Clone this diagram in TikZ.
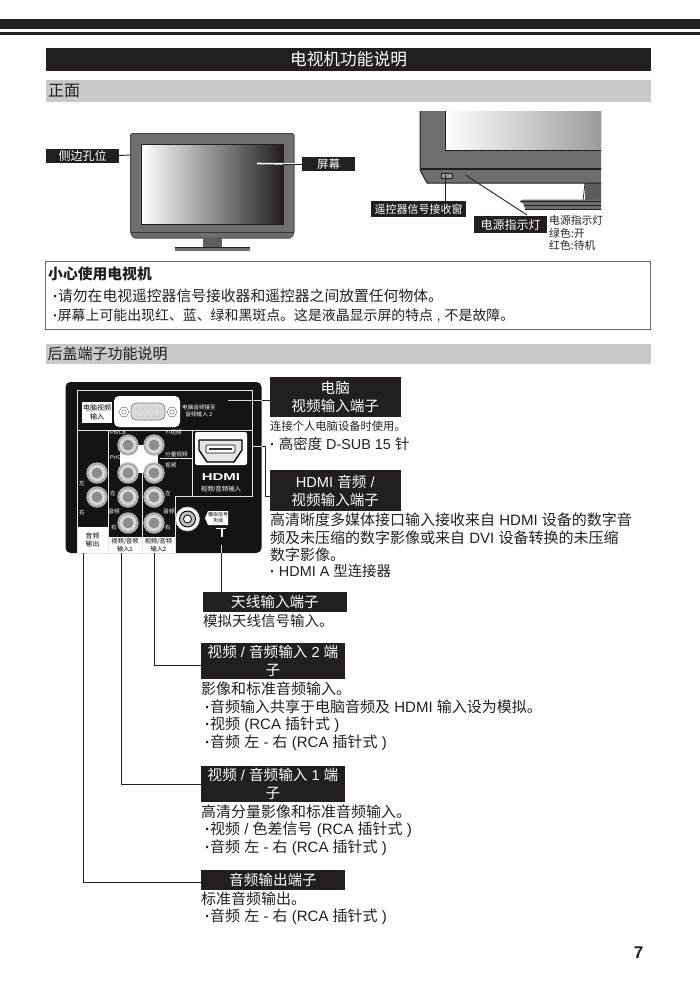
\documentclass[tikz,border=0pt]{standalone}
\usepackage{fontspec}
\setmainfont{Liberation Sans}
\newfontfamily\cjk{Noto Sans CJK SC}
\newcommand{\hz}[1]{{\cjk #1}}
\newcommand{\fs}[1]{\fontsize{#1}{#1}\selectfont\baselineskip=1.2\baselineskip}
\newcommand{\dotb}{\textbf{·}}
\definecolor{ink}{HTML}{231F20}
\definecolor{barg}{HTML}{C8C9CA}
\definecolor{bez}{HTML}{6D6E70}
\tikzset{
  x=1pt,y=-1pt,
  txt/.style={anchor=west,inner sep=0,text=ink,font=\fontsize{15}{18}\selectfont},
  tiny/.style={inner sep=0,text=white,align=center,font=\fontsize{5.6}{6.8}\selectfont},
  tinyk/.style={tiny,text=black},
  lbl/.style={fill=ink,text=white,inner sep=0,align=center,font=\fontsize{14.6}{18}\selectfont},
  lead/.style={draw=ink,line width=0.9pt},
  leadw/.style={draw=white!85!black,line width=0.8pt},
  pline/.style={draw=white!90!black,line width=0.9pt},
}
\newcommand{\jack}[3][10.7]{%
  \fill[black!30] (#2,#3) circle (#1);
  \draw[black!45,fill=black!16,line width=0.5pt] (#2,#3) circle (#1*0.84);
  \fill[black!45] (#2,#3) circle (#1*0.5);
}
\newcommand{\T}[5][]{\node[txt,#1] (#2) at (#3,#4) {#5};}
\begin{document}
\begin{tikzpicture}
\useasboundingbox (0,0) rectangle (700,993);
\fill[white] (0,0) rectangle (700,993);
% page bands
\fill[ink] (0,19) rectangle (700,28.5);
\fill[ink] (0,32) rectangle (700,35);
% headers
\node[fill=ink,minimum width=605,minimum height=23,inner sep=0] (title) at (348,59.5) {};
\node[text=white,inner sep=0,font=\fs{16.7}] (titlet) at (348.5,59.5) {\hz{电视机功能说明}};
\fill[barg] (45.5,80) rectangle (650.5,102);
\T[font=\fs{16}]{zm}{48}{91}{\hz{正面}}
% front TV
\draw[ink!80,fill=bez,line width=1pt,rounded corners=1.5] (130.5,133.5) -- (294,133.5) -- (294,233) -- (291,238) -- (133.5,238) -- (130.5,233) -- cycle;
\draw[ink!90,line width=0.7pt] (130.5,232.5) -- (294,232.5);
\fill[bez!85!black] (203,238) rectangle (222,247);
\fill[bez] (175,247) rectangle (250,250.5);
\draw[ink,line width=0.4pt] (175,247) -- (250,247);
\shade[left color=white,middle color=black!45,right color=ink,draw=ink,line width=0.5pt] (141.5,144.5) rectangle (283,224);
\node[lbl,minimum width=73,minimum height=14,font=\fs{12}] (side) at (82.5,155.5) {\hz{侧边孔位}};
\coordinate (sidept) at (130.5,155);
\draw[lead] (side.east) -- (sidept);
\node[lbl,minimum width=53,minimum height=14,font=\fs{11.5}] (scr) at (328.5,164) {\hz{屏幕}};
\coordinate (scrpt) at (257,163.5);
\draw[white,line width=1.6pt] (scr.west) -- (scrpt);
\draw[ink,line width=0.6pt] (scr.west) -- (283,164) ;
\draw[white,line width=0.4pt] (283,163.5) -- (scrpt);
% detail TV
\begin{scope}
\clip (415,111) rectangle (601,212);
\fill[bez!85!black] (585,183) rectangle (605,201);
\draw[ink,line width=0.7pt] (585,183) -- (583,201);
\fill[bez] (520,201) -- (523,199.5) -- (605,199.5) -- (605,209) -- (525,209) -- (524,205) -- cycle;
\draw[ink,line width=0.6pt] (520,201) -- (605,201) (524,205) -- (605,205) (525,209) -- (605,209);
\draw[ink,fill=bez,line width=1pt] (420,105) -- (420,170) -- (427,183) -- (610,183) -- (610,105) -- cycle;
\draw[ink,line width=1.2pt] (420.5,169) -- (610,169);
\shade[left color=white,right color=black!42,draw=ink,line width=0.7pt] (445,105) rectangle (612,150);
\end{scope}
\draw[ink,line width=0.4pt,fill=bez!70!white] (441,173) rectangle (452,178);
\node[lbl,minimum width=95,minimum height=16,font=\fs{11}] (rem) at (418.5,209) {\hz{遥控器信号接收窗}};
\node[lbl,minimum width=73,minimum height=17,font=\fs{12}] (pow) at (510.5,224.5) {\hz{电源指示灯}};
\coordinate (rempt) at (445,175);
\coordinate (powpt) at (465.5,175);
\coordinate (powend) at (527,215);
\draw[ink,line width=0.7pt] (rempt) -- (445,201);
\draw[ink,line width=0.9pt] (powpt) -- (powend);
\T[font=\fs{10.8}]{p1}{549}{220}{\hz{电源指示灯}}
\T[font=\fs{10.8}]{p2}{549}{233}{\hz{绿色:开}}
\T[font=\fs{10.8}]{p3}{549}{245}{\hz{红色:待机}}
% caution
\draw[black!60,line width=0.9pt] (45.5,261) rectangle (650.5,329);
\T[font=\bfseries\fs{14.8}]{c0}{48}{274}{\hz{小心使用电视机}}
\T[font=\fs{14.8}]{c1}{53}{296}{\dotb\hz{请勿在电视遥控器信号接收器和遥控器之间放置任何物体。}}
\T[font=\fs{13.9}]{c2}{53}{316}{\dotb\hz{屏幕上可能出现红、蓝、绿和黑斑点。这是液晶显示屏的特点} , \hz{不是故障。}}
\fill[barg] (45.5,344) rectangle (650.5,364);
\T[font=\fs{15}]{hg}{47.5}{354}{\hz{后盖端子功能说明}}
% back panel
\fill[black!92,rounded corners=5] (65.5,382) rectangle (261.5,553);
\draw[pline] (252.5,496.5) -- (252.5,390.5) -- (77,390.5) -- (77,553);
\draw[pline] (77,430) -- (252.5,430);
\draw[pline] (108,430) -- (108,553);
\draw[pline] (192,430) -- (192,496.5);
\draw[pline] (142,473) -- (142,553);
\draw[pline] (160,458) -- (192,458);
\draw[pline] (252.5,496.5) -- (175,496.5) -- (175,553);
% top row
\fill[white] (82,402) rectangle (112,423);
\node[tinyk,font=\fs{7}] (pcv) at (97,412.5) {\hz{电脑视频}\\\hz{输入}};
\fill[white,rounded corners=5] (114,396) rectangle (180,427);
\draw[black!55,fill=black!15,rounded corners=5,line width=0.6pt] (131,403) rectangle (165,420);
\foreach \i in {0,...,4}{\fill[black!50] (137+\i*5.5,408) circle (0.5); \fill[black!50] (137+\i*5.5,416) circle (0.5);}
\foreach \x in {124,172}{
  \draw[black!55,line width=0.5pt] (\x+5,412) -- (\x+2.5,416.3) -- (\x-2.5,416.3) -- (\x-5,412) -- (\x-2.5,407.7) -- (\x+2.5,407.7) -- cycle;
  \draw[black!55,line width=0.5pt] (\x,412) circle (2.2);}
\node[tiny] (pca) at (199,411) {\hz{电脑音频接至}\\\hz{音频输入} 2};
% audio out
\jack{97}{473}\jack{97}{497}
\node[tiny] (l0) at (82,483) {\hz{左}};
\node[tiny] (r0) at (82,512) {\hz{右}};
\fill[white] (77.5,527) rectangle (107.5,553);
\node[tinyk,font=\fs{6.8}] (ao) at (92.5,540) {\hz{音频}\\\hz{输出}};
% AV
\fill[white] (120,445) rectangle (158,473);
\foreach \y in {445,473,497,523}{\jack{128}{\y}\jack{154}{\y}}
\node[tiny,anchor=west] (pb) at (110,432.5) {Pb/Cb};
\node[tiny,anchor=west] (yv) at (165,432.5) {Y/\hz{视频}};
\node[tiny,anchor=west] (pr) at (110,457.5) {Pr/Cr};
\node[tiny,anchor=west] (cv) at (165,454.5) {\hz{分量视频}};
\node[tiny,anchor=west] (vi) at (165,465) {\hz{视频}};
\node[tiny] (l1) at (113,493) {\hz{左}};
\node[tiny] (a1) at (114,511) {\hz{音频}};
\node[tiny] (r1) at (114,527) {\hz{右}};
\node[tiny] (l2) at (168,493) {\hz{左}};
\node[tiny] (a2) at (169,511) {\hz{音频}};
\node[tiny] (r2) at (168,527) {\hz{右}};
\fill[white] (108.5,537) rectangle (141.5,553);
\fill[white] (142.5,537) rectangle (175,553);
\node[tinyk,font=\fs{6.2}] (i1) at (125,545) {\hz{视频/音频}\\\hz{输入}1};
\node[tinyk,font=\fs{6.2}] (i2) at (158.5,545) {\hz{视频/音频}\\\hz{输入}2};
% HDMI
\fill[white,rounded corners=2] (195,432) rectangle (247,465);
\draw[black,line width=1.3pt,fill=black!10,line join=round] (199,440) -- (242,440) -- (242,450) -- (234,462) -- (207,462) -- (199,450) -- cycle;
\draw[black,line width=0.6pt,fill=white,rounded corners=1] (206,445) rectangle (235,453);
\fill[black!80] (209,448) rectangle (232,450);
\node[inner sep=0,text=white,font=\bfseries\fs{10}] (hl) at (221,477) {\scalebox{1.5}[1]{HDMI}};
\node[tiny,font=\fs{6.4}] (hv) at (221,489) {\hz{视频}/\hz{音频输入}};
% antenna
\draw[black!30,fill=white,line width=0.8pt] (187.5,519) circle (12);
\draw[black,fill=black!25,line width=0.9pt] (187.5,519) circle (8);
\draw[black,fill=white,line width=0.8pt] (187.5,519) circle (4);
\fill[white] (205,518) -- (208,511) -- (228,511) -- (228,525) -- (208,525) -- cycle;
\node[tinyk,font=\fs{5}] (an) at (218,518) {\hz{模拟信号}\\\hz{天线}};
\draw[white,line width=0.8pt] (216,528) -- (221,528) -- (221,537) (226,528) -- (222.5,528) -- (222.5,537);
% labels on the right
\node[lbl,minimum width=130.5,minimum height=40] (pc) at (335.25,397) {\hz{电脑}\\\hz{视频输入端子}};
\node[lbl,minimum width=130.5,minimum height=41] (hd) at (335.25,490.5) {HDMI \hz{音频} /\\\hz{视频输入端子}};
\coordinate (pcin) at (228,400.5);
\coordinate (pcedge) at (261.5,400.5);
\draw[leadw] (pcin) -- (pcedge);
\draw[lead] (pcedge) -- (pc.west |- pcedge);
\coordinate (hdin) at (253,446);
\coordinate (hdedge) at (261.5,446);
\coordinate (hdbend) at (265,446);
\draw[leadw] (hdin) -- (hdedge);
\draw[lead] (hdedge) -- (hdbend) -- (265,496) -- ([yshift=-5.5pt]hd.west);
\T[font=\fs{11.3}]{t1}{270}{426}{\hz{连接个人电脑设备时使用。}}
\T[font=\fs{14.4}]{t2}{270}{444}{\dotb{} \hz{高密度} D-SUB 15 \hz{针}}
\T{t3}{270}{520}{\hz{高清晰度多媒体接口输入接收来自} HDMI \hz{设备的数字音}}
\T{t4}{270}{537.5}{\hz{频及未压缩的数字影像或来自} DVI \hz{设备转换的未压缩}}
\T{t5}{270}{555}{\hz{数字影像。}}
\T[font=\fs{14.4}]{t6}{270}{571.5}{\dotb{} HDMI A \hz{型连接器}}
% lower labels
\node[lbl,minimum width=144,minimum height=20] (ant) at (275,602) {\hz{天线输入端子}};
\T[font=\fs{14.5}]{a1t}{203}{621}{\hz{模拟天线信号输入。}}
\node[lbl,minimum width=144,minimum height=36] (av2) at (273,661) {\hz{视频} / \hz{音频输入} 2 \hz{端}\\\hz{子}};
\T{b1}{201}{689}{\hz{影像和标准音频输入。}}
\T{b2}{205}{707}{\dotb\hz{音频输入共享于电脑音频及} HDMI \hz{输入设为模拟。}}
\T{b3}{205}{725}{\dotb\hz{视频} (RCA \hz{插针式} )}
\T{b4}{205}{743}{\dotb\hz{音频} \hz{左} - \hz{右} (RCA \hz{插针式} )}
\node[lbl,minimum width=144,minimum height=36] (av1) at (273,784) {\hz{视频} / \hz{音频输入} 1 \hz{端}\\\hz{子}};
\T{d1}{201}{811.5}{\hz{高清分量影像和标准音频输入。}}
\T{d2}{205}{830}{\dotb\hz{视频} / \hz{色差信号} (RCA \hz{插针式} )}
\T{d3}{205}{848}{\dotb\hz{音频} \hz{左} - \hz{右} (RCA \hz{插针式} )}
\node[lbl,minimum width=144,minimum height=20] (aout) at (273,880) {\hz{音频输出端子}};
\T{e1}{201}{899}{\hz{标准音频输出。}}
\T{e2}{205}{917}{\dotb\hz{音频} \hz{左} - \hz{右} (RCA \hz{插针式} )}
% bottom connectors
\coordinate (antin) at (221,545);
\coordinate (antedge) at (221,553);
\draw[leadw] (antin) -- (antedge);
\draw[lead] (antedge) -- (antedge |- ant.north);
\coordinate (av2pt) at (154.5,553);
\coordinate (av1pt) at (121,553);
\coordinate (aopt) at (83.5,553);
\draw[lead] (av2pt) |- ([yshift=-4pt]av2.west);
\draw[lead] (av1pt) |- (av1.west);
\draw[lead] (aopt) |- ([yshift=-2pt]aout.west);
\node[inner sep=0,text=ink,font=\bfseries\fs{17}] (pg) at (638.5,953) {7};
\end{tikzpicture}
\end{document}
